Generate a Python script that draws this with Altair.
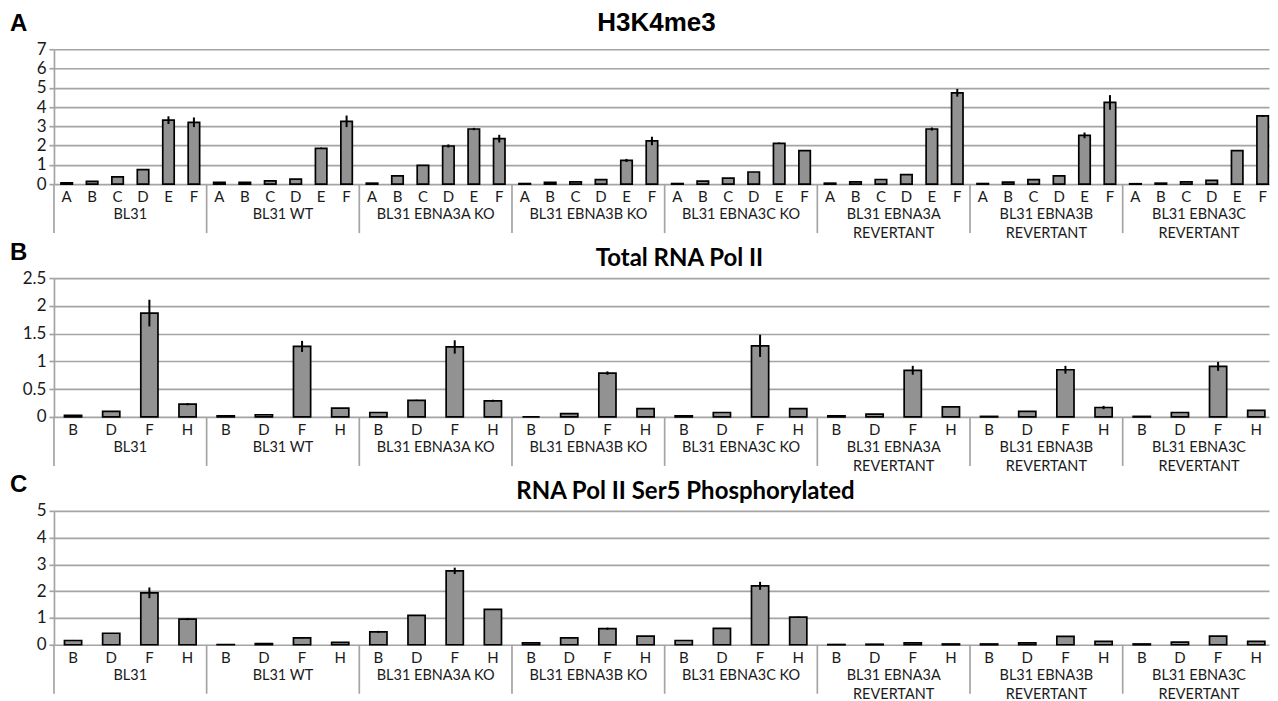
import altair as alt
import pandas as pd

groups = ["BL31", "BL31 WT", "BL31 EBNA3A KO", "BL31 EBNA3B KO", "BL31 EBNA3C KO",
          "BL31 EBNA3A\nREVERTANT", "BL31 EBNA3B\nREVERTANT", "BL31 EBNA3C\nREVERTANT"]
letters_a = ["A", "B", "C", "D", "E", "F"]
letters_bc = ["B", "D", "F", "H"]

# Panel A: H3K4me3
h3k4_vals = [
    [0.07, 0.14, 0.38, 0.75, 3.32, 3.21],
    [0.09, 0.09, 0.17, 0.26, 1.86, 3.26],
    [0.05, 0.43, 0.97, 1.98, 2.86, 2.36],
    [0.03, 0.09, 0.12, 0.23, 1.23, 2.24],
    [0.03, 0.16, 0.31, 0.63, 2.12, 1.74],
    [0.05, 0.12, 0.24, 0.49, 2.86, 4.74],
    [0.03, 0.10, 0.23, 0.43, 2.53, 4.24],
    [0.02, 0.05, 0.12, 0.19, 1.74, 3.54],
]
h3k4_errs = [
    [0, 0, 0, 0, 0.20, 0.25],
    [0, 0, 0, 0, 0.04, 0.30],
    [0, 0, 0.02, 0.08, 0.06, 0.20],
    [0, 0, 0, 0, 0.08, 0.22],
    [0, 0, 0, 0, 0.04, 0.02],
    [0, 0, 0, 0, 0.08, 0.20],
    [0, 0, 0, 0, 0.15, 0.38],
    [0, 0, 0, 0, 0.02, 0.05],
]

# Panel B: Total RNA Pol II
pol2_vals = [
    [0.03, 0.10, 1.87, 0.23],
    [0.02, 0.04, 1.27, 0.16],
    [0.08, 0.30, 1.26, 0.29],
    [0.00, 0.06, 0.79, 0.15],
    [0.02, 0.08, 1.28, 0.15],
    [0.02, 0.05, 0.84, 0.18],
    [0.01, 0.10, 0.85, 0.17],
    [0.01, 0.08, 0.91, 0.12],
]
pol2_errs = [
    [0, 0, 0.24, 0.02],
    [0, 0, 0.10, 0],
    [0, 0.01, 0.12, 0.02],
    [0, 0, 0.03, 0],
    [0, 0, 0.20, 0],
    [0, 0, 0.08, 0],
    [0, 0, 0.07, 0.03],
    [0, 0, 0.08, 0],
]

# Panel C: RNA Pol II Ser5 Phosphorylated
ser5_vals = [
    [0.16, 0.43, 1.94, 0.96],
    [0.01, 0.04, 0.26, 0.09],
    [0.48, 1.10, 2.76, 1.32],
    [0.07, 0.26, 0.60, 0.32],
    [0.16, 0.61, 2.20, 1.03],
    [0.01, 0.02, 0.07, 0.03],
    [0.03, 0.07, 0.31, 0.13],
    [0.03, 0.10, 0.32, 0.13],
]
ser5_errs = [
    [0.02, 0, 0.20, 0.04],
    [0, 0, 0.02, 0],
    [0.04, 0, 0.12, 0],
    [0, 0, 0.04, 0],
    [0, 0, 0.15, 0.02],
    [0, 0, 0, 0],
    [0, 0, 0, 0],
    [0, 0, 0, 0],
]

W = 1216
VISIBLE = 0.9948   # fraction of the last group's span that fits in the window
FONT = "Lato"
BAR_HALF = 0.225


def build_frames(vals, errs, letters):
    n = len(letters)
    rows = []
    for g, (vs, es) in enumerate(zip(vals, errs)):
        for i, (v, e) in enumerate(zip(vs, es)):
            rows.append(dict(group=groups[g], letter=letters[i], value=v, err=e,
                             c=g * n + i + 0.5))
    df = pd.DataFrame(rows)
    gdf = pd.DataFrame({"group": groups, "gc": [g * n + n / 2 for g in range(len(groups))]})
    sdf = pd.DataFrame({"b": [k * n for k in range(len(groups))]})
    return df, gdf, sdf


def panel(vals, errs, letters, ymax, ticks, height, title, title_font, title_size,
          title_x, title_y, letter, letter_y):
    n = len(letters)
    df, gdf, sdf = build_frames(vals, errs, letters)
    xs = alt.Scale(domain=[0, 8 * n * VISIBLE], nice=False, zero=False)
    ys = alt.Scale(domain=[0, ymax], nice=False)
    yaxis = alt.Axis(values=ticks, grid=True, format="~g", gridColor="#a4a4a4",
                     gridWidth=1.7, domainColor="#a4a4a4", domainWidth=1.7,
                     tickColor="#a4a4a4", tickSize=5, tickWidth=1.7,
                     labelFontSize=17, labelFont=FONT, labelColor="#1a1a1a",
                     labelPadding=3, labelOverlap=False, labelFlush=False)

    base = alt.Chart(df).transform_calculate(
        x0=f"datum.c - {BAR_HALF}", x1=f"datum.c + {BAR_HALF}",
        lo="datum.value - datum.err", hi="datum.value + datum.err", zero="0")

    bars = base.mark_bar(color="#929292", stroke="#000000", strokeWidth=1.7).encode(
        x=alt.X("x0:Q", scale=xs, axis=None),
        x2="x1:Q",
        y=alt.Y("value:Q", scale=ys, title=None, axis=yaxis),
        y2="zero:Q",
    )
    errbars = base.transform_filter("datum.err > 0").mark_rule(
        color="#000000", strokeWidth=2).encode(
        x=alt.X("c:Q", scale=xs, axis=None),
        y=alt.Y("lo:Q", scale=ys, title=None, axis=yaxis), y2="hi:Q")

    ltext = alt.Chart(df).mark_text(fontSize=15, font=FONT, color="#1a1a1a",
                                    baseline="middle").encode(
        x=alt.X("c:Q", scale=xs, axis=None), y=alt.value(height + 13), text="letter:N")

    gtext = alt.Chart(gdf).mark_text(fontSize=14.5, font=FONT, color="#1a1a1a",
                                     baseline="top", lineBreak="\n",
                                     lineHeight=19).encode(
        x=alt.X("gc:Q", scale=xs, axis=None), y=alt.value(height + 24), text="group:N")

    seps = alt.Chart(sdf).mark_rule(color="#a4a4a4", strokeWidth=1.7).encode(
        x=alt.X("b:Q", scale=xs, axis=None), y=alt.value(height), y2=alt.value(height + 49))

    tdf = pd.DataFrame({"t": [title], "l": [letter]})
    ttext = alt.Chart(tdf).mark_text(fontSize=title_size, font=title_font,
                                     fontWeight="bold", color="#000000",
                                     baseline="middle").encode(
        x=alt.value(title_x), y=alt.value(title_y), text="t:N")
    lettext = alt.Chart(tdf).mark_text(fontSize=24, font="Liberation Sans",
                                       fontWeight="bold", color="#000000",
                                       align="left", baseline="middle").encode(
        x=alt.value(-44), y=alt.value(letter_y), text="l:N")

    return alt.layer(seps, bars, errbars, ltext, gtext, ttext, lettext).properties(
        width=W, height=height)


pa = panel(h3k4_vals, h3k4_errs, letters_a, 7, [0, 1, 2, 3, 4, 5, 6, 7], 135,
           "H3K4me3", "Liberation Sans", 26, 603, -26.5, "A", -25.5)
pb = panel(pol2_vals, pol2_errs, letters_bc, 2.5, [0, 0.5, 1, 1.5, 2, 2.5], 139,
           "Total RNA Pol II", FONT, 24, 626, -19, "B", -25.5)
pc = panel(ser5_vals, ser5_errs, letters_bc, 5, [0, 1, 2, 3, 4, 5], 134,
           "RNA Pol II Ser5 Phosphorylated", FONT, 24, 632, -18.5, "C", -25.5)

chart = alt.vconcat(pa, pb, pc, spacing=94, bounds="flush",
                    padding={"left": 2, "top": 1, "right": 0, "bottom": 0},
                    background="white"
                    ).configure_view(strokeWidth=0, stroke="transparent")

chart.save("out.html", embed_options={"renderer": "svg", "actions": False})
